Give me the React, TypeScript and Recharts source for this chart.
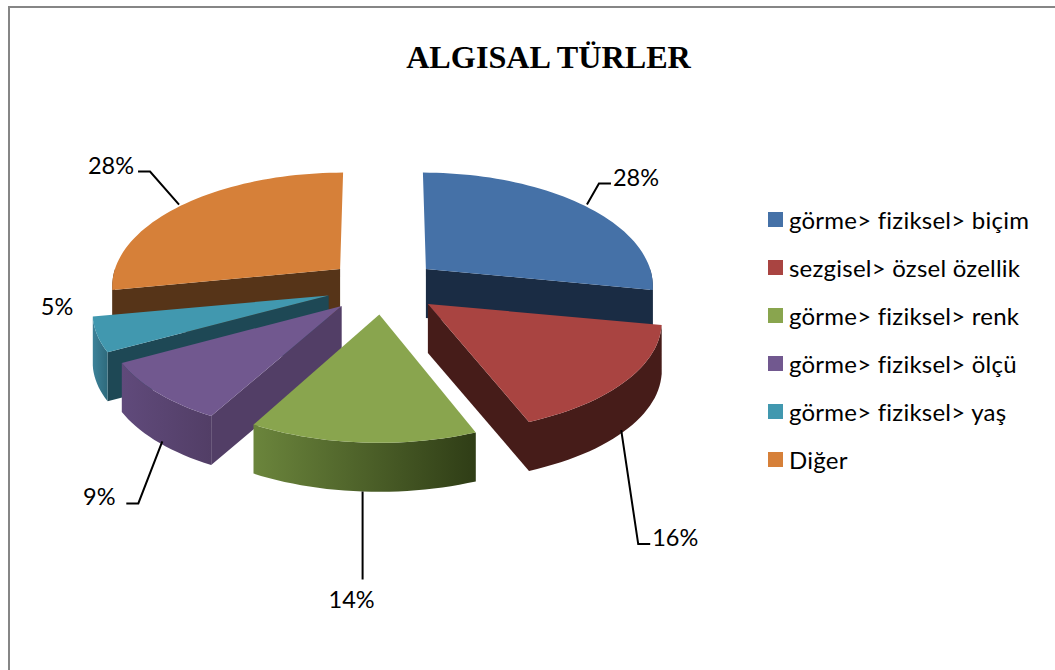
import { PieChart, Pie, Legend } from "recharts";

const categories = [
  "görme> fiziksel> biçim",
  "sezgisel> özsel özellik",
  "görme> fiziksel> renk",
  "görme> fiziksel> ölçü",
  "görme> fiziksel> yaş",
  "Diğer",
];
const shares = [28, 16, 14, 9, 5, 28];
const topColors = ["#4571a7", "#a94441", "#89a54e", "#71588f", "#4198af", "#d68039"];
const wallColors = ["#1a2c44", "#461c19", "#384a1f", "#523e66", "#1e4855", "#563418"];
const rimFrom = ["#1a2c44", "#461c19", "#6b853c", "#604a7b", "#3d8299", "#563418"];
const rimTo = ["#1a2c44", "#461c19", "#2f3d16", "#523e66", "#2e6a7c", "#563418"];
// drawn back to front so nearer slices cover the walls behind them
const paintOrder = [5, 4, 3, 2, 0, 1];

// label position relative to the rim point the leader starts from
const labelDx = [49, 54, -11, -63, 0, -68];
const labelDy = [-27, 108, 109, 56, 0, -39];
const hasLeader = [true, true, true, true, false, true];
// small width correction per slice, the original's perspective is not quite regular
const sliceWidth = [0.983, 1.013, 1, 1.018, 1.022, 0.987];

const data = categories.map((name, i) => ({ name, value: shares[i], fill: topColors[i] }));

const WIDTH = 1055;
const HEIGHT = 670;
const CX = 383;
const CY = 286;
const RADIUS = 228;
const SQUASH = 110 / 228;
const PERSPECTIVE = 1 / 7;
const DEPTH = 49;
const EXPLODE = 0.25;

const rad = (a: number) => (a * Math.PI) / 180;

// angle in degrees clockwise from 12 o'clock, r in pie radii
function project(angle: number, r: number) {
  const c = Math.cos(rad(angle));
  const s = 1 / (1 + PERSPECTIVE * c * r);
  return { x: Math.sin(rad(angle)) * r * RADIUS * s, y: -c * r * RADIUS * SQUASH * s };
}

function arcPoints(ox: number, oy: number, from: number, to: number, widen: number, dy = 0) {
  const pts: [number, number][] = [];
  const n = Math.max(2, Math.ceil(Math.abs(to - from) / 2));
  for (let k = 0; k <= n; k++) {
    const a = from + ((to - from) * k) / n;
    const p = project(a, 1);
    // exploded slices lean toward the vanishing point at the back
    const lean = ((ox - CX) * -Math.cos(rad(a))) / 14;
    pts.push([ox + p.x * widen + lean, oy + p.y + dy]);
  }
  return pts;
}

const toPath = (pts: [number, number][]) =>
  "M" + pts.map((p) => `${p[0].toFixed(1)},${p[1].toFixed(1)}`).join("L") + "Z";

function sliceGeometry(props: any) {
  // recharts angles run counter-clockwise from 3 o'clock
  const a0 = 90 - props.startAngle;
  const a1 = 90 - props.endAngle;
  const mid = (a0 + a1) / 2;
  const e = project(mid, EXPLODE);
  return { a0, a1, mid, ox: props.cx + e.x, oy: props.cy + e.y };
}

function Slice3D(props: any, layer: number) {
  const i = props.index;
  if (i !== layer) return <g />;
  const { a0, a1, ox, oy } = sliceGeometry(props);
  const widen = sliceWidth[i];
  const top = arcPoints(ox, oy, a0, a1, widen);
  const first = top[0];
  const last = top[top.length - 1];
  const wall = (p: [number, number]): [number, number][] => [
    [ox, oy],
    p,
    [p[0], p[1] + DEPTH],
    [ox, oy + DEPTH],
  ];
  // a radial wall shows when its outward side faces the viewer
  const showStart = a0 >= 180;
  const showEnd = a1 < 180;
  const rimA = Math.max(a0, 90);
  const rimB = Math.min(a1, 270);
  const rim: [number, number][] =
    rimB > rimA
      ? [...arcPoints(ox, oy, rimA, rimB, widen), ...arcPoints(ox, oy, rimB, rimA, widen, DEPTH)]
      : [];
  const gradId = `rim-${i}`;
  return (
    <g>
      <defs>
        <linearGradient id={gradId} x1="0" y1="0" x2="1" y2="0">
          <stop offset="0" stopColor={rimFrom[i]} />
          <stop offset="1" stopColor={rimTo[i]} />
        </linearGradient>
      </defs>
      {showStart && <path d={toPath(wall(first))} fill={wallColors[i]} />}
      {showEnd && <path d={toPath(wall(last))} fill={wallColors[i]} />}
      {rim.length > 0 && <path d={toPath(rim)} fill={`url(#${gradId})`} />}
      <path d={toPath([[ox, oy], ...top])} fill={topColors[i]} />
    </g>
  );
}

function Leader(props: any) {
  const i = props.index;
  const { mid, ox, oy } = sliceGeometry({ ...props, cx: CX, cy: CY });
  const p = project(mid, 1);
  const front = Math.cos(rad(mid)) < 0;
  const ax = ox + p.x;
  const ay = oy + p.y + (front ? DEPTH : 0);
  const tx = hasLeader[i] ? ax + labelDx[i] : 57;
  const ty = hasLeader[i] ? ay + labelDy[i] : 307;
  const left = labelDx[i] < 0;
  let pts = "";
  if (hasLeader[i]) {
    if (i === 2) pts = `${ax},${ay} ${ax},${ty - 21}`;
    else {
      const stubEnd = tx + (left ? 27 : -25);
      const elbow = stubEnd + (left ? 12 : -12);
      pts = `${ax},${ay} ${elbow},${ty + 6} ${stubEnd},${ty + 6}`;
    }
  }
  return (
    <g>
      {pts && <polyline points={pts} fill="none" stroke="#000" strokeWidth={2} />}
      <text
        x={tx}
        y={ty + 8}
        textAnchor="middle"
        fontFamily="Lato"
        fontSize={23.5}
        fill="#000"
      >
        {shares[i]}%
      </text>
    </g>
  );
}

function LegendList() {
  return (
    <div
      style={{
        fontFamily: "Lato",
        fontSize: 24,
        letterSpacing: 0.23,
        fontVariantLigatures: "none",
        color: "#000",
      }}
    >
      {categories.map((c, i) => (
        <div key={c} style={{ display: "flex", alignItems: "center", height: 48 }}>
          <span
            style={{ width: 15, height: 15, background: topColors[i], marginRight: 6, flex: "none" }}
          />
          <span style={{ whiteSpace: "nowrap" }}>{c}</span>
        </div>
      ))}
    </div>
  );
}

export default function App() {
  return (
    <div style={{ position: "absolute", left: 0, top: 0, width: WIDTH, height: HEIGHT, overflow: "hidden", background: "#fff" }}>
      <PieChart width={WIDTH} height={HEIGHT} margin={{ top: 0, right: 0, bottom: 0, left: 0 }}>
        <path d="M9,670V7H1055" fill="none" stroke="#868686" strokeWidth={2} />
        <text x={548.5} y={68} textAnchor="middle" fontFamily="Liberation Serif" fontWeight="bold" fontSize={32.2}>
          ALGISAL TÜRLER
        </text>
        {paintOrder.map((layer) => (
          <Pie
            key={layer}
            data={data}
            dataKey="value"
            nameKey="name"
            cx={CX}
            cy={CY}
            outerRadius={RADIUS}
            startAngle={90}
            endAngle={-270}
            isAnimationActive={false}
            legendType="none"
            stroke="none"
            shape={(p: any) => Slice3D(p, layer)}
            label={layer === 1 ? Leader : false}
            labelLine={false}
          />
        ))}
        <Legend
          layout="vertical"
          align="right"
          verticalAlign="top"
          content={<LegendList />}
          wrapperStyle={{ left: 768, top: 195, width: 285 }}
        />
      </PieChart>
    </div>
  );
}
